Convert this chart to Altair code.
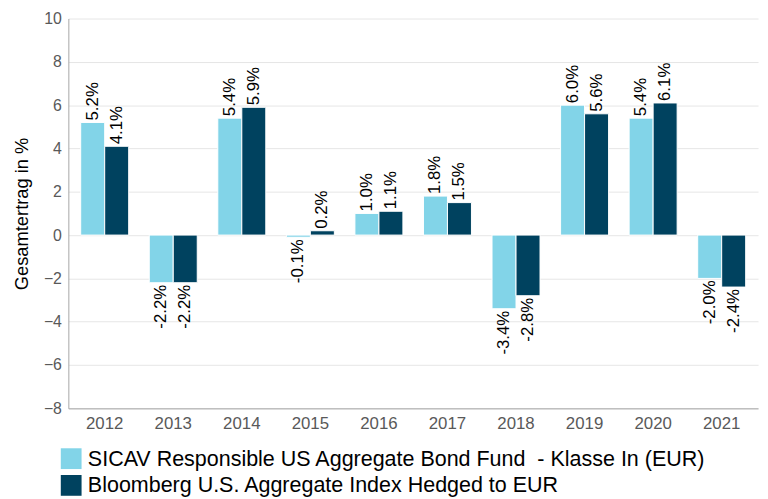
import altair as alt
import pandas as pd

years = ["2012", "2013", "2014", "2015", "2016", "2017", "2018", "2019", "2020", "2021"]
fund = [5.2, -2.2, 5.4, -0.1, 1.0, 1.8, -3.4, 6.0, 5.4, -2.0]
index = [4.1, -2.2, 5.9, 0.2, 1.1, 1.5, -2.8, 5.6, 6.1, -2.4]
series = [
    "SICAV Responsible US Aggregate Bond Fund\u00a0 - Klasse In (EUR)",
    "Bloomberg U.S. Aggregate Index Hedged to EUR",
]
colors = ["#82d4e8", "#00425f"]

rows = []
for i, y in enumerate(years):
    rows.append({"year": y, "series": series[0], "value": fund[i]})
    rows.append({"year": y, "series": series[1], "value": index[i]})
df = pd.DataFrame(rows)
df["label"] = df["value"].map(lambda v: f"{v:.1f}%")

FONT = "Liberation Sans"

base = alt.Chart(df).encode(
    x=alt.X("year:N", sort=years,
            scale=alt.Scale(paddingInner=0.3, paddingOuter=0.18),
            axis=alt.Axis(title=None, labelAngle=0, ticks=False, labelFontSize=17,
                          labelColor="#595959", labelPadding=7, domainColor="#a6a6a6",
                          labelFont=FONT)),
    xOffset=alt.XOffset("series:N", sort=series, scale=alt.Scale(paddingInner=0, paddingOuter=0)),
)

bars = base.mark_bar(stroke="white", strokeWidth=1).encode(
    y=alt.Y("value:Q",
            scale=alt.Scale(domain=[-8, 10], nice=False),
            axis=alt.Axis(values=list(range(-8, 11, 2)), title="Gesamtertrag in %",
                          titleFontSize=18.5, titleColor="black", titleFontWeight="normal",
                          titleFont=FONT, titlePadding=12,
                          labelFontSize=16, labelColor="#595959", labelFont=FONT,
                          ticks=False, labelPadding=7, domainColor="#a6a6a6",
                          gridColor="#e6e6e6")),
    color=alt.Color("series:N", sort=series,
                    scale=alt.Scale(domain=series, range=colors),
                    legend=alt.Legend(title=None, orient="none", legendX=-8, legendY=434,
                                      direction="vertical", symbolType="square",
                                      symbolSize=441, symbolStrokeWidth=0,
                                      labelFontSize=21.7, labelColor="black",
                                      labelFont=FONT, rowPadding=4, labelOffset=6,
                                      labelLimit=800)),
)

pos = base.transform_filter("datum.value >= 0").mark_text(
    angle=270, align="left", baseline="middle", dx=2, fontSize=17, font=FONT, color="black"
).encode(y="value:Q", text="label:N")

neg = base.transform_filter("datum.value < 0").mark_text(
    angle=270, align="right", baseline="middle", dx=-2, fontSize=17, font=FONT, color="black"
).encode(y="value:Q", text="label:N")

chart = alt.layer(bars, pos, neg).properties(
    width=697, height=394,
    autosize=alt.AutoSizeParams(type="none"),
    padding={"left": 61, "top": 8, "right": 2, "bottom": 89},
).configure_view(stroke=None)

chart.save("out.html", embed_options={"renderer": "svg", "actions": False})
